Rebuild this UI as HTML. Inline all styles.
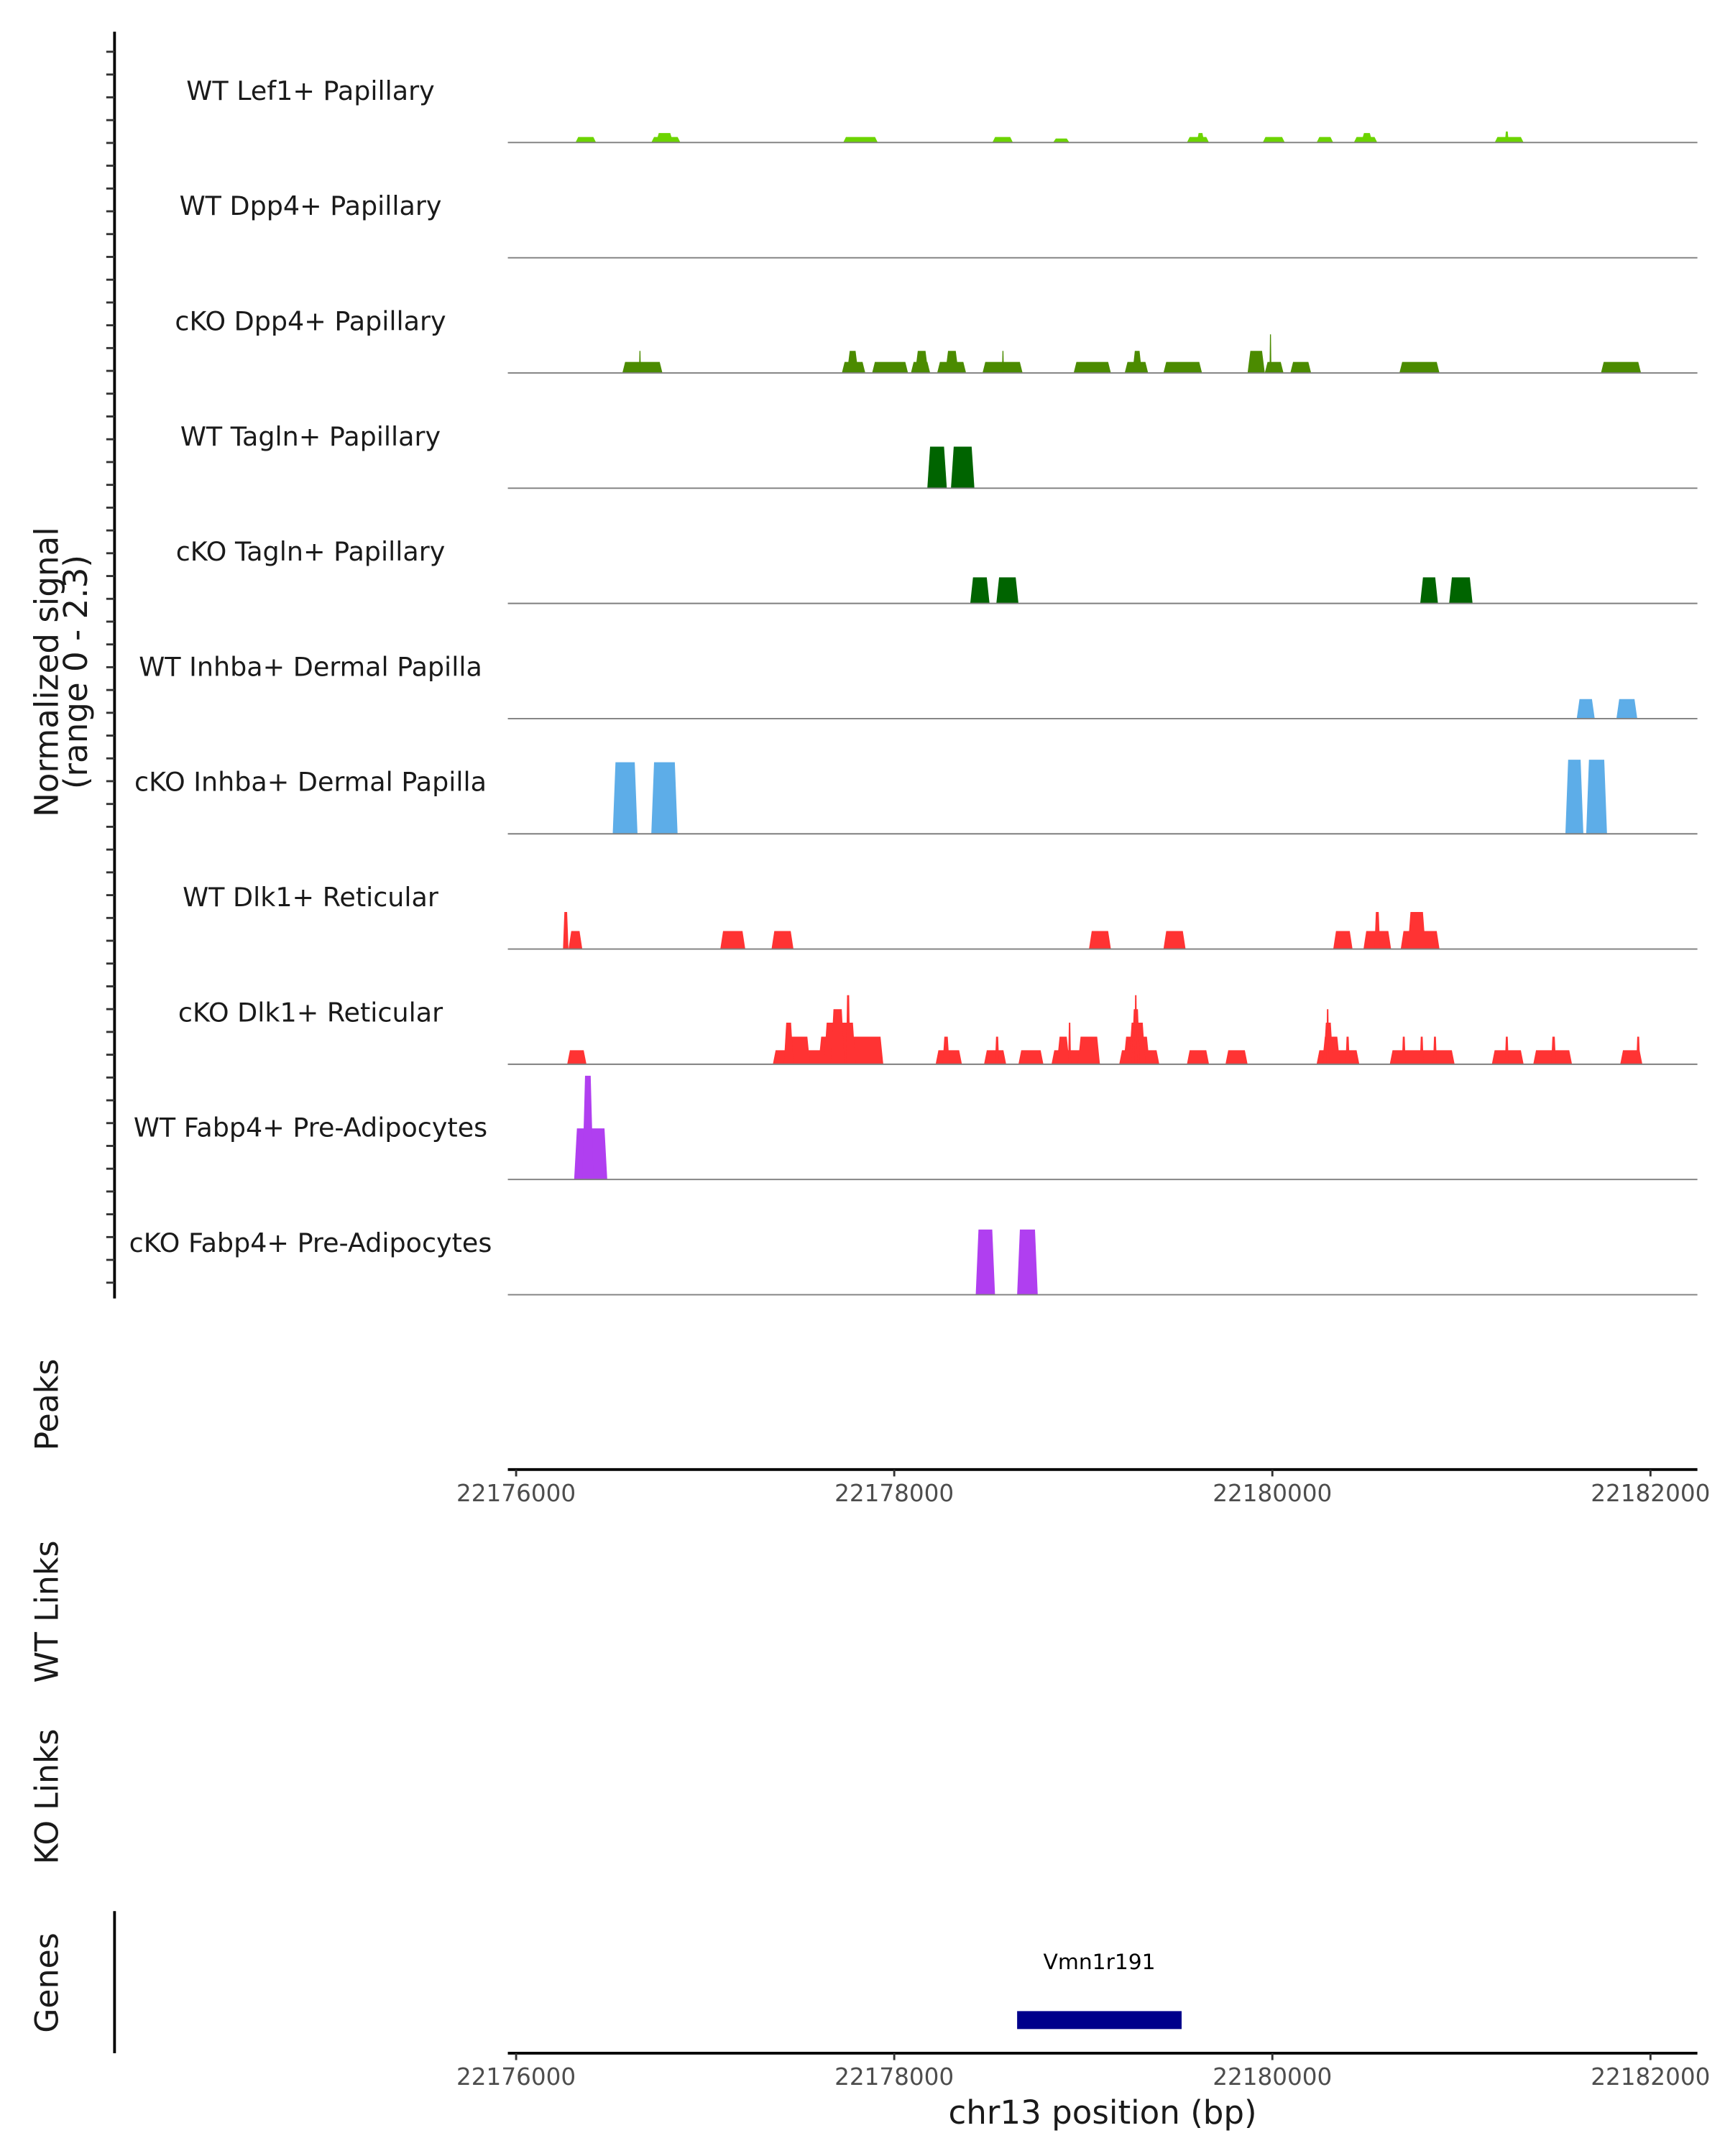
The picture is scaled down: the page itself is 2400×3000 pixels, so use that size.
<!DOCTYPE html>
<html><head><meta charset="utf-8">
<style>
html,body{margin:0;padding:0;background:#fff;}
svg{display:block;font-family:"DejaVu Sans","Liberation Sans",sans-serif;}
</style></head>
<body>
<svg id="chart" width="2400" height="3000" viewBox="0 0 1250 1562.5" xmlns="http://www.w3.org/2000/svg">
<rect x="0" y="0" width="1250" height="1562.5" fill="#fff"/>
<g id="tracks"></g>
<g id="yaxis"></g>
<text transform="translate(42,487) rotate(-90)" text-anchor="middle" font-size="23.5" fill="#1a1a1a">Normalized signal</text>
<text transform="translate(63,487) rotate(-90)" text-anchor="middle" font-size="23.5" fill="#1a1a1a">(range 0 - 2.3)</text>
<text transform="translate(42,1018) rotate(-90)" text-anchor="middle" font-size="23" fill="#1a1a1a">Peaks</text>
<text transform="translate(42,1168) rotate(-90)" text-anchor="middle" font-size="23" fill="#1a1a1a">WT Links</text>
<text transform="translate(42,1302) rotate(-90)" text-anchor="middle" font-size="23" fill="#1a1a1a">KO Links</text>
<text transform="translate(42,1437) rotate(-90)" text-anchor="middle" font-size="23" fill="#1a1a1a">Genes</text>
<line x1="83" y1="1385" x2="83" y2="1488" stroke="#000" stroke-width="2"/>
<g id="xaxes"></g>
<g id="genes"></g>
<text x="799" y="1539" text-anchor="middle" font-size="23.5" fill="#1a1a1a">chr13 position (bp)</text>
</svg>
<script>
const regionStart = 22176000;
const xTickValues = [22176000, 22178000, 22180000, 22182000];
const trackNames = ["WT Lef1+ Papillary","WT Dpp4+ Papillary","cKO Dpp4+ Papillary","WT Tagln+ Papillary","cKO Tagln+ Papillary","WT Inhba+ Dermal Papilla","cKO Inhba+ Dermal Papilla","WT Dlk1+ Reticular","cKO Dlk1+ Reticular","WT Fabp4+ Pre-Adipocytes","cKO Fabp4+ Pre-Adipocytes"];
const trackColors = ["#6cd400","#4b8b00","#4b8b00","#006400","#006400","#5dade8","#5dade8","#ff3333","#ff3333","#b03ff0","#b03ff0"];
// segments: [startOffsetBp, endOffsetBp, signal]
const lef1WT = [[314,423,0.11],[715,869,0.11],[740,830,0.19],[1730,1913,0.11],[2519,2628,0.11],[2840,2927,0.08],[3548,3665,0.11],[3600,3640,0.19],[3949,4066,0.11],[4234,4322,0.11],[4431,4555,0.11],[4470,4530,0.19],[5176,5329,0.11],[5230,5250,0.22]];
const dpp4WT = [];
const dpp4KO = [[562,774,0.22],[650,660,0.44],[1723,1847,0.22],[1750,1810,0.44],[1883,2073,0.22],[2088,2190,0.22],[2110,2180,0.44],[2227,2380,0.22],[2270,2340,0.44],[2467,2679,0.22],[2570,2580,0.44],[2949,3146,0.22],[3219,3343,0.22],[3260,3310,0.44],[3424,3628,0.22],[3869,3960,0.44],[3960,4059,0.22],[3985,3995,0.77],[4095,4205,0.22],[4672,4884,0.22],[5738,5950,0.22]];
const taglnWT = [[2175,2278,0.83],[2300,2424,0.83]];
const taglnKO = [[2402,2504,0.52],[2540,2657,0.52],[4782,4876,0.52],[4935,5059,0.52]];
const inhbaWT = [[5610,5705,0.39],[5820,5930,0.39]];
const inhbaKO = [[511,642,1.43],[715,854,1.43],[5550,5645,1.48],[5660,5770,1.48]];
const dlk1WT = [[248,277,0.74],[277,350,0.36],[1080,1212,0.36],[1351,1467,0.36],[3030,3146,0.36],[3424,3541,0.36],[4322,4424,0.36],[4482,4628,0.36],[4540,4570,0.74],[4679,4884,0.36],[4716,4811,0.74]];
const dlk1KO = [[270,372,0.28],[1358,1942,0.28],[1416,1555,0.55],[1416,1467,0.83],[1599,1942,0.55],[1628,1796,0.83],[1664,1737,1.1],[1745,1767,1.38],[2219,2358,0.28],[2256,2292,0.55],[2475,2592,0.28],[2533,2555,0.55],[2657,2789,0.28],[2832,3088,0.28],[2860,2927,0.55],[2920,2935,0.83],[2971,3088,0.55],[3190,3402,0.28],[3212,3351,0.55],[3241,3329,0.83],[3256,3300,1.1],[3270,3285,1.38],[3548,3665,0.28],[3752,3869,0.28],[4234,4460,0.28],[4263,4358,0.55],[4270,4322,0.83],[4285,4300,1.1],[4387,4409,0.55],[4621,4964,0.28],[4685,4705,0.55],[4780,4800,0.55],[4850,4870,0.55],[5161,5329,0.28],[5230,5250,0.55],[5380,5585,0.28],[5475,5500,0.55],[5840,5957,0.28],[5925,5945,0.55]];
const fabp4WT = [[307,482,1.02],[350,409,2.07]];
const fabp4KO = [[2431,2533,1.3],[2650,2759,1.3]];
const geneName = "Vmn1r191";
const geneStart = 22178650;
const geneEnd = 22179520;

const allTracks = [lef1WT,dpp4WT,dpp4KO,taglnWT,taglnKO,inhbaWT,inhbaKO,dlk1WT,dlk1KO,fabp4WT,fabp4KO];
const NS = "http://www.w3.org/2000/svg";
const plotL = 368, plotR = 1230;
const firstBase = 103.3, trackH = 83.5, yMax = 2.3;
function xScale(bp){ return 374 + (bp - regionStart) / 2000 * 274; }
function yScale(v, base){ return base - v / yMax * trackH; }
function mk(tag, attrs, parent){ const e = document.createElementNS(NS, tag); for (const k in attrs) e.setAttribute(k, attrs[k]); parent.appendChild(e); return e; }

const tg = document.getElementById('tracks');
allTracks.forEach((segs, i) => {
  const base = firstBase + i * trackH;
  const g = mk('g', {}, tg);
  
  
  const lab = mk('text', {x: 225, y: base - 31, 'text-anchor': 'middle', 'font-size': 19, fill: '#1a1a1a'}, g);
  lab.textContent = trackNames[i];
  
  
  segs.forEach(s => {
    const x1 = xScale(regionStart + s[0]), x2 = xScale(regionStart + s[1]);
    const yt = yScale(s[2], base);
    const sl = Math.min(2, (x2 - x1) / 4);
    const p = mk('polygon', {points: `${x1},${base} ${x1+sl},${yt} ${x2-sl},${yt} ${x2},${base}`, fill: trackColors[i]}, g);
    
    
  });
  const bl = mk('line', {x1: plotL, x2: plotR, y1: base, y2: base, stroke: '#7f7f7f', 'stroke-width': 1}, g);
  
  
});

const ya = document.getElementById('yaxis');
mk('line', {x1: 83, x2: 83, y1: 23, y2: 941, stroke: '#000', 'stroke-width': 2}, ya);
for (let y = 37.5; y < 941; y += 16.52) {
  const t = mk('line', {x1: 77, x2: 83, y1: y, y2: y, stroke: '#333', 'stroke-width': 1.5}, ya);
  
  
}

const xa = document.getElementById('xaxes');
[1065, 1488].forEach((ay, k) => {
  const g = mk('g', {}, xa);
  
  
  mk('line', {x1: plotL, x2: plotR, y1: ay, y2: ay, stroke: '#000', 'stroke-width': 2}, g);
  xTickValues.forEach(v => {
    const x = xScale(v);
    mk('line', {x1: x, x2: x, y1: ay, y2: ay + 5, stroke: '#333', 'stroke-width': 1.5}, g);
    const t = mk('text', {x: x, y: ay + 23, 'text-anchor': 'middle', 'font-size': 17, fill: '#4d4d4d'}, g);
    t.textContent = v;
    
    
  });
});

const gg = document.getElementById('genes');
const gx1 = xScale(geneStart), gx2 = xScale(geneEnd);
const gr = mk('rect', {x: gx1, y: 1457.5, width: gx2 - gx1, height: 13, fill: '#00008b'}, gg);


const gl = mk('text', {x: (gx1 + gx2) / 2, y: 1427, 'text-anchor': 'middle', 'font-size': 15.5, fill: '#000'}, gg);
gl.textContent = geneName;


</script>
</body></html>
